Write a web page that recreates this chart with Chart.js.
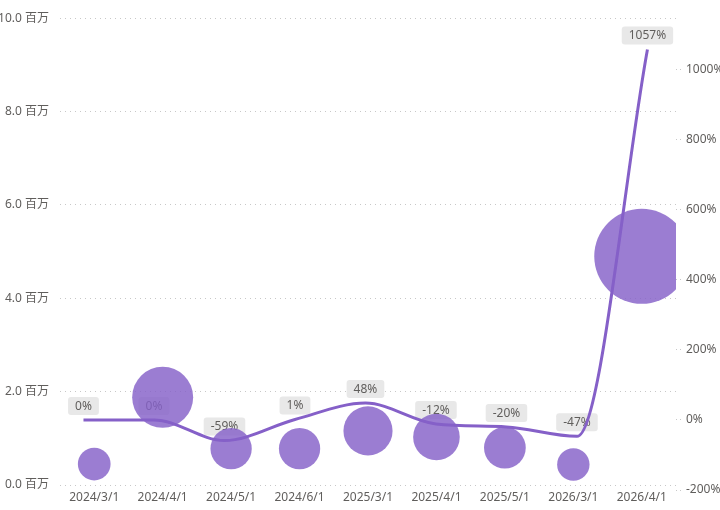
<!DOCTYPE html>
<html>
<head>
<meta charset="utf-8">
<script src="https://cdn.jsdelivr.net/npm/chart.js@4.4.1/dist/chart.umd.min.js"></script>
<style>
  html, body { margin: 0; padding: 0; background: #fff; }
  #wrap { width: 720px; height: 510px; }
</style>
</head>
<body>
<div id="wrap"><canvas id="chart"></canvas></div>
<script>
// ── Data ──────────────────────────────────────────────────────────────────────
const DATES = ["2024/3/1", "2024/4/1", "2024/5/1", "2024/6/1", "2025/3/1", "2025/4/1", "2025/5/1", "2026/3/1", "2026/4/1"];
const AMOUNTS = [450000, 1880000, 780000, 780000, 1160000, 1030000, 800000, 440000, 4900000];
const GROWTH = [0, 0, -59, 1, 48, -12, -20, -47, 1057];
const LEFT_TICKS = [0, 2000000, 4000000, 6000000, 8000000, 10000000];
const RIGHT_TICKS = [-200, 0, 200, 400, 600, 800, 1000];

const FONT = "'Segoe UI', 'Noto Sans', 'Noto Sans CJK SC', sans-serif";
const TEXT = "#605e5c";
const PURPLE = "#8560c8";

// ── Data labels (grey boxes above the line points) ───────────────────────────
const growthLabels = {
  id: "growthLabels",
  beforeDatasetsDraw(chart) {
    const meta = chart.getDatasetMeta(1);
    const ctx = chart.ctx;
    ctx.save();
    ctx.font = "12px " + FONT;
    ctx.textAlign = "center";
    ctx.textBaseline = "middle";
    meta.data.forEach((pt, i) => {
      const text = GROWTH[i] + "%";
      const w = ctx.measureText(text).width + 14;
      const h = 18;
      const cx = pt.x, cy = pt.y - 14;
      ctx.fillStyle = "#e8e8e8";
      ctx.beginPath();
      ctx.roundRect(cx - w / 2, cy - h / 2, w, h, 3);
      ctx.fill();
      ctx.fillStyle = TEXT;
      ctx.fillText(text, cx, cy + 0.5);
    });
    ctx.restore();
  },
};

// ── Chart ─────────────────────────────────────────────────────────────────────
new Chart(document.getElementById("chart"), {
  data: {
    labels: DATES,
    datasets: [
      {
        type: "bubble",
        data: AMOUNTS.map((v, i) => ({ x: DATES[i], y: v })),
        backgroundColor: "rgba(133,96,200,0.82)",
        borderWidth: 0,
        radius: c => 2.8 + 20.2 * Math.sqrt(c.raw.y / 1e6),
        xAxisID: "x",
        yAxisID: "y",
        clip: 0,
        order: 2,
      },
      {
        type: "line",
        data: GROWTH.map((v, i) => ({ x: i, y: v })),
        borderColor: PURPLE,
        borderWidth: 3,
        pointRadius: 0,
        cubicInterpolationMode: "monotone",
        xAxisID: "x2",
        yAxisID: "y1",
        order: 1,
      },
    ],
  },
  options: {
    responsive: true,
    maintainAspectRatio: false,
    animation: false,
    layout: { autoPadding: false, padding: { top: 14, left: 0, right: 0, bottom: 0 } },
    plugins: { legend: { display: false }, tooltip: { enabled: false } },
    scales: {
      x: {
        type: "category",
        offset: true,
        grid: { display: false, drawTicks: false },
        border: { display: false },
        ticks: { color: TEXT, font: { family: FONT, size: 12 }, padding: 0, maxRotation: 0 },
        afterFit: s => { s.height = 20; },
      },
      x2: {
        type: "linear",
        display: false,
        min: -0.333,
        max: 8.405,
      },
      y: {
        position: "left",
        min: -106000,
        max: 10000000,
        afterBuildTicks: s => { s.ticks = LEFT_TICKS.map(v => ({ value: v })); },
        grid: { color: "#c8c8c8", drawTicks: false },
        border: { display: false, dash: [1, 4] },
        ticks: {
          color: TEXT,
          font: { family: FONT, size: 12 },
          padding: 11,
          callback: v => (v / 1e6).toFixed(1) + " 百万",
        },
        afterFit: s => { s.width = 60; },
      },
      y1: {
        position: "right",
        min: -200,
        max: 1146,
        afterBuildTicks: s => { s.ticks = RIGHT_TICKS.map(v => ({ value: v })); },
        grid: { drawOnChartArea: false, color: "#c8c8c8", tickLength: 7, tickBorderDash: [1, 3] },
        border: { display: false },
        ticks: {
          color: TEXT,
          font: { family: FONT, size: 12 },
          padding: 3,
          callback: v => v + "%",
        },
        afterFit: s => { s.width = 44; },
      },
    },
  },
  plugins: [growthLabels],
});
</script>
</body>
</html>
